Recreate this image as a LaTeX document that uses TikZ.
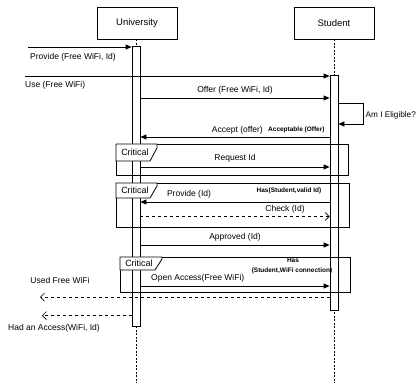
\documentclass[tikz,border=0pt]{standalone}
\usepackage{fontspec}
\setmainfont{Liberation Sans}
\usetikzlibrary{arrows.meta}
\begin{document}
\begin{tikzpicture}[x=1pt,y=-1pt,
  msg/.style={-{Triangle[length=6pt,width=5pt]}, line width=0.8pt},
  ret/.style={dashed, line width=0.7pt, -{Straight Barb[length=4pt,width=8pt]}},
  lbl/.style={font=\fontsize{8.5}{10}\selectfont, inner sep=0pt},
  blbl/.style={font=\fontsize{6.5}{7.5}\selectfont\bfseries, inner sep=0pt},
  head/.style={draw, line width=0.8pt, minimum width=80pt, minimum height=32pt, font=\fontsize{9.5}{11}\selectfont, fill=white},
  life/.style={line width=0.8pt, dash pattern=on 2pt off 1.5pt},
  bar/.style={draw, fill=white, line width=0.8pt, minimum width=8pt, inner sep=0pt, anchor=north},
  umlframe/.style={draw, line width=0.8pt},
  tab/.style={draw, fill=white, line width=0.8pt},
  tabtext/.style={font=\fontsize{9}{10}\selectfont, inner sep=0pt}
]
\useasboundingbox (0,0) rectangle (417,383);

% headers
\node[head] (U) at (137,23) {University};
\node[head] (S) at (334,23) {Student};

% lifelines
\coordinate (Uend) at (136,383);
\coordinate (Send) at (334,383);
\draw[life] (U.south -| Uend) -- (Uend);
\draw[life] (S.south -| Send) -- (Send);

% activation bars
\node[bar, minimum height=280pt] (UA) at (136,46) {};
\node[bar, minimum height=235pt] (SA) at (334,75) {};

% frames
\node[umlframe, minimum width=232pt, minimum height=31pt, inner sep=0pt, anchor=north west] (F1) at (116,144) {};
\draw[tab] (116,144) -- (157,144) -- (157,148) -- (150,161) -- (116,161) -- cycle;
\node[tabtext] (T1) at (135,152.5) {Critical};

\node[umlframe, minimum width=233pt, minimum height=44pt, inner sep=0pt, anchor=north west] (F2) at (116,183) {};
\draw[tab] (116,183) -- (157,183) -- (157,186) -- (150,198) -- (116,198) -- cycle;
\node[tabtext] (T2) at (135,190.5) {Critical};

\node[umlframe, minimum width=230pt, minimum height=35pt, inner sep=0pt, anchor=north west] (F3) at (120,257) {};
\draw[tab] (120,257) -- (162,257) -- (162,259) -- (155,270) -- (120,270) -- cycle;
\node[tabtext] (T3) at (139,263.5) {Critical};

% 1 Provide
\coordinate (p1) at (28,47);
\draw[msg] (p1) -- (UA.west |- p1);
\node[lbl, anchor=west] (l1) at (30,57) {Provide (Free WiFi, Id)};

% 2 Use
\coordinate (p2) at (25,76);
\draw[msg] (p2) -- (SA.west |- p2);
\node[lbl, anchor=west] (l2) at (25,85.5) {Use (Free WiFi)};

% 3 Offer
\coordinate (p3) at (0,98);
\draw[msg] (UA.east |- p3) -- (SA.west |- p3);
\node[lbl] (l3) at (235,90) {Offer (Free WiFi, Id)};

% 4 self
\coordinate (p4a) at (363,103);
\coordinate (p4b) at (363,124);
\draw[msg] (SA.east |- p4a) -- (p4a) -- (p4b) -- (SA.east |- p4b);
\node[lbl, anchor=west, font=\fontsize{8.2}{10}\selectfont] (l4) at (365.5,115) {Am I Eligible?};

% 5 Accept
\coordinate (p5) at (0,137);
\draw[msg] (SA.west |- p5) -- (UA.east |- p5);
\node[lbl, anchor=east] (l5) at (263,130) {Accept (offer)};
\node[blbl, anchor=west] (l5b) at (268,130) {Acceptable (Offer)};

% 6 Request Id
\coordinate (p6) at (0,167);
\draw[msg] (UA.east |- p6) -- (SA.west |- p6);
\node[lbl] (l6) at (235,158) {Request Id};

% 7 Provide (Id)
\coordinate (p7) at (0,202);
\draw[msg] (SA.west |- p7) -- (UA.east |- p7);
\node[lbl] (l7) at (189,194) {Provide (Id)};
\node[blbl] (l7b) at (289,191) {Has(Student,valid Id)};

% Check (Id)
\coordinate (p8) at (0,216.5);
\draw[ret] (UA.east |- p8) -- (SA.west |- p8);
\node[lbl] (l8) at (285,209) {Check (Id)};

% Approved
\coordinate (p9) at (0,245);
\draw[msg] (UA.east |- p9) -- (SA.west |- p9);
\node[lbl] (l9) at (235,237) {Approved (Id)};

% Open Access
\coordinate (p10) at (0,286);
\draw[msg] (UA.east |- p10) -- (SA.west |- p10);
\node[lbl, anchor=west] (l10) at (151,278.5) {Open Access(Free WiFi)};
\node[blbl] (l10a) at (293,260) {Has};
\node[blbl] (l10b) at (292,271) {(Student,WiFi connection)};

% Used Free WiFi
\coordinate (p11) at (40,297);
\draw[ret] (SA.west |- p11) -- (p11);
\node[lbl] (l11) at (60,280) {Used Free WiFi};

% Had an Access
\coordinate (p12) at (42,315.5);
\draw[ret] (UA.west |- p12) -- (p12);
\node[lbl] (l12) at (54,328) {Had an Access(WiFi, Id)};
\end{tikzpicture}
\end{document}
